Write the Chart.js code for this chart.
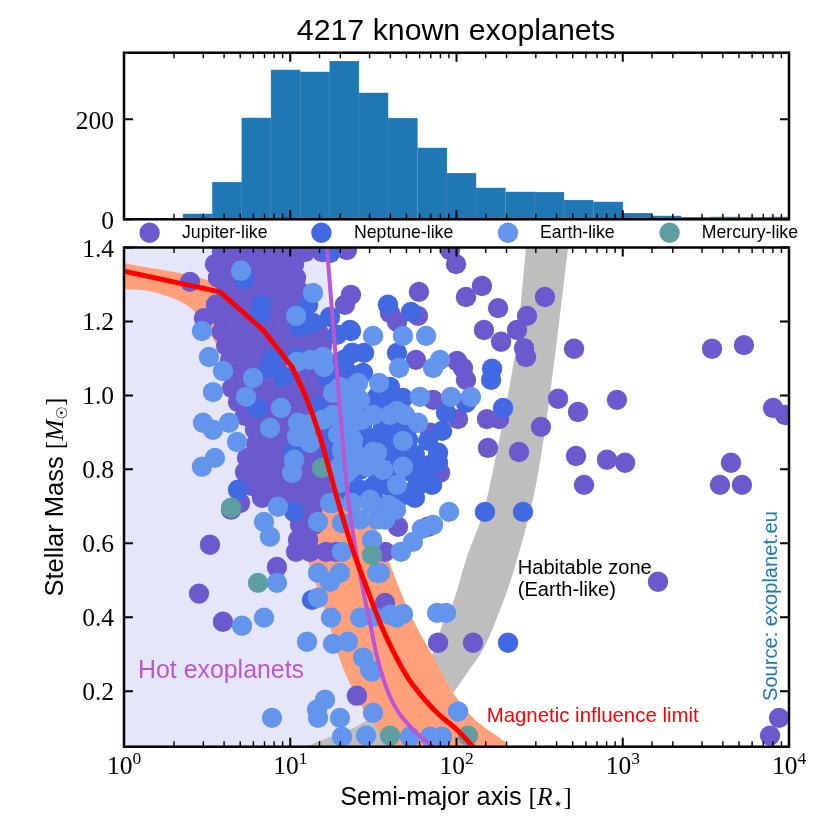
<!DOCTYPE html>
<html lang="en">
<head>
<meta charset="UTF-8">
<title>4217 known exoplanets</title>
<script src="https://cdn.jsdelivr.net/npm/chart.js"></script>
<style>
  html, body { margin: 0; padding: 0; background: #fff; }
  canvas { position: absolute; left: 0; top: 0; }
</style>
</head>
<body>
<canvas id="mainChart" width="830" height="830"></canvas>
<canvas id="histChart" width="830" height="245"></canvas>
<script>
// all semi-major axis values are log10(a / R_star)
const histLogA = [0.443,0.620,0.796,0.972,1.149,1.325,1.501,1.677,1.854,2.030,2.206,2.383,2.559,2.735,2.912,3.088,3.264,3.441,3.617,3.793,3.969];
const histCounts = [11,74,203,299,295,316,253,202,143,92,63,55,54,38,35,12,7,4,5,4,5];

const jupiterLogA = [
  .589,.674,.758,.842,.926,1.011,1.089,1.191,
  .547,.638,.734,.830,.926,1.023,
  .565,.662,.758,.854,.950,1.035,
  .614,.710,.806,.902,.998,1.059,
  .553,.626,.722,.818,.914,1.011,1.083,
  .481,.589,.686,.782,.878,.974,1.059,
  .589,.686,.782,.878,.974,1.071,1.167,
  .614,.710,.806,.902,.998,1.095,1.191,
  .638,.734,.830,.926,1.119,1.323,
  .650,.746,.842,.938,1.035,1.131,1.227,1.323,
  .650,.746,.842,.938,1.035,1.131,1.227,
  .686,.782,.878,.974,1.071,1.167,1.263,
  .728,.818,.914,1.011,1.107,1.203,1.299,
  .788,.878,.974,1.071,1.167,1.263,1.359,
  .794,.890,.986,1.083,1.179,1.275,
  .740,.830,.926,1.023,1.119,1.215,1.311,
  .728,.818,.914,1.011,1.107,1.203,1.299,
  .770,.866,.962,1.059,1.155,1.251,1.347,
  .830,.926,1.011,1.095,1.191,
  1.059,1.131,
  1.059,1.143,
  1.047,1.107,
  1.035,1.119,1.215,1.275,
  .397,.517,.920,.451,.595,1.401,.698,.644,1.341,1.365,
  1.329,1.600,1.642,1.768,1.774,1.961,1.997,2.153,2.057,2.250,
  2.165,2.268,2.364,2.424,2.532,2.406,2.418,2.707,1.756,2.003,
  2.039,2.057,1.859,2.611,2.731,2.965,2.183,2.256,2.009,2.508,
  2.189,2.376,2.719,2.767,2.905,3.014,3.537,3.729,3.585,3.651,
  3.717,3.904,3.976,3.212,1.889,2.099,3.940,3.886,1.660,1.570,
  1.841,1.901,1.570,1.648,1.829,1.570,1.377
];
const jupiterMass = [
  1.388,1.388,1.388,1.388,1.388,1.388,1.388,1.388,
  1.355,1.355,1.355,1.355,1.355,1.355,
  1.318,1.318,1.318,1.318,1.318,1.318,
  1.280,1.280,1.280,1.280,1.280,1.280,
  1.245,1.245,1.245,1.245,1.245,1.245,1.245,
  1.209,1.209,1.209,1.209,1.209,1.209,1.209,
  1.172,1.172,1.172,1.172,1.172,1.172,1.172,
  1.134,1.134,1.134,1.134,1.134,1.134,1.134,
  1.096,1.096,1.096,1.096,1.096,1.096,
  1.058,1.058,1.058,1.058,1.058,1.058,1.058,1.058,
  1.020,1.020,1.020,1.020,1.020,1.020,1.020,
  .982,.982,.982,.982,.982,.982,.982,
  .945,.945,.945,.945,.945,.945,.945,
  .907,.907,.907,.907,.907,.907,.907,
  .869,.869,.869,.869,.869,.869,
  .831,.831,.831,.831,.831,.831,.831,
  .793,.793,.793,.793,.793,.793,.793,
  .755,.755,.755,.755,.755,.755,.755,
  .723,.723,.723,.723,.723,
  .691,.691,
  .650,.650,
  .609,.609,
  .577,.577,.577,.577,
  1.307,.596,.536,.464,.388,.188,.709,.691,1.393,1.272,
  1.245,1.223,1.199,1.215,1.280,1.393,1.355,1.296,1.266,1.236,
  1.177,1.145,1.177,1.215,1.266,1.128,1.104,1.126,1.096,1.093,
  1.074,1.042,.988,.991,.955,.988,.936,.936,.936,.915,
  .858,.847,.836,.758,.826,.818,1.126,1.136,.758,.818,
  .758,.966,.947,.496,.331,.331,.128,.080,.901,.934,
  .899,.791,.577,.645,.645,.439,1.115
];

const neptuneLogA = [
  .722,.824,.818,1.107,1.239,1.239,1.059,1.137,1.359,1.281,
  .890,.878,.956,1.041,1.299,1.221,.800,1.167,1.257,1.017,
  .686,1.221,1.588,1.726,1.365,1.444,1.642,1.438,2.214,2.208,
  2.280,2.057,1.937,1.913,1.829,1.889,1.889,1.799,1.678,1.630,
  1.600,1.522,1.522,1.558,1.660,1.738,1.498,1.642,1.762,1.420,
  2.171,2.400,2.310,1.023,1.131,1.570,1.750,1.841,1.612,1.690,
  1.540,1.738,
  1.371,1.468,1.564,1.660,1.432,1.630,1.720,1.432,1.612,1.708,
  1.420,1.492,1.660,1.420,1.510,1.630,1.811,1.359,1.570,1.853,
  1.323,1.498,1.630,1.750,1.371,1.329,1.371
];
const neptuneMass = [
  1.315,1.245,1.218,1.245,1.212,1.385,1.185,1.196,1.177,1.164,
  1.096,1.074,1.050,1.104,1.091,1.050,.966,.969,.899,.845,
  .745,.845,1.245,1.226,1.174,1.115,1.115,1.061,1.072,1.042,
  .966,.980,.953,.904,.877,.845,.818,.780,.993,.996,
  1.023,.996,.888,.915,.826,.791,.753,.753,.753,.745,
  .685,.685,.331,.685,.447,.847,.839,.812,.784,.731,
  .704,.739,
  .961,.961,.961,.961,.920,.920,.920,.880,.880,.880,
  .839,.839,.839,.799,.799,.799,.799,.758,.758,.758,
  .723,.723,.723,.723,1.115,1.096,1.055
];

const earthLogA = [
  .704,1.137,1.035,.469,.511,.595,.776,.734,.535,.475,
  .535,.632,.680,.547,.469,.944,.878,1.047,1.041,1.119,
  1.197,1.257,1.359,1.299,1.377,1.041,1.119,1.197,1.203,1.023,
  1.011,1.317,1.377,1.341,1.299,1.377,1.420,1.341,1.359,1.498,
  1.678,1.817,1.654,1.901,1.859,1.534,1.408,1.401,1.780,1.967,
  2.087,1.498,1.600,1.690,1.768,1.432,1.678,1.377,1.498,1.462,
  1.558,1.678,1.642,1.480,
  .926,.842,.878,1.167,1.257,1.371,1.480,1.311,1.522,1.311,
  1.492,1.167,1.239,1.299,.920,1.167,1.245,.842,.710,1.420,
  1.522,1.504,1.101,1.257,1.347,1.438,1.492,1.209,1.161,1.167,
  1.299,.890,1.311,1.456,1.498,1.955,1.859,1.792,1.738,1.666,
  1.540,1.883,1.937,1.678,1.642,1.600,2.009,1.841,1.913,1.720,
  1.480,1.588,1.570,1.636,1.420,
  1.377,1.642,1.311,1.432,1.522,1.257,1.299,1.239,1.612,1.119,1.287
];
const earthMass = [
  1.337,1.277,1.215,1.174,1.104,1.066,1.047,.996,1.009,.926,
  .907,.926,.874,.831,.807,.966,.912,.926,.888,.872,
  .934,.947,.953,1.023,1.023,1.091,1.096,1.104,1.077,.826,
  .791,.845,.880,.791,.807,.807,.988,.988,.915,1.161,
  1.161,1.161,1.074,1.096,1.074,1.034,1.034,.996,.996,.996,
  .996,.947,.947,.947,.926,.934,.877,.853,.847,.807,
  .799,.807,.758,.718,
  .699,.658,.618,.658,.709,.709,.709,.655,.664,.577,
  .609,.520,.496,.520,.493,.453,.399,.399,.377,.399,
  .520,.401,.334,.328,.334,.291,.253,.177,.150,.128,
  .128,.128,.077,.080,.142,.685,.650,.639,.604,.577,
  .520,.412,.412,.409,.399,.407,.145,.077,.077,.077,
  .258,.704,.664,.691,.664,
  .926,.958,.853,.831,.845,1.007,.763,.709,.696,.922,.895
];

const mercuryLogA = [.644,.806,1.492,1.191,1.600,2.069];
const mercuryMass = [.696,.493,.569,.804,.080,.080];

// magnetic limit: straight pieces near the top, a smooth curve below
const magneticTopLogA = [0,.577,.836,1.011];
const magneticTopMass = [1.336,1.280,1.177,1.077];
const magneticLogA = [1.011,1.101,1.179,1.227,1.281,1.329,1.377,1.426,1.480,1.558,1.642,1.708,1.780,1.889,2.003,2.099];
const magneticMass = [1.077,.988,.888,.812,.723,.650,.582,.520,.455,.366,.288,.236,.193,.139,.096,.05];

const bandLogA = [0,.577,.938,1.179,1.329,1.468,1.582,1.660,1.738,1.859,1.979,2.111,2.304,1.660,1.480,1.377,1.299,1.221,1.119,.998,.818,.638,.415,.174,0];
const bandMass = [1.358,1.299,1.164,1.015,.866,.691,.564,.474,.393,.293,.196,.123,.05,.05,.124,.204,.285,.401,.536,.691,.907,1.069,1.231,1.280,1.288];

const hotLogA = [1.221,1.281,1.347,1.438,1.480,1.522,1.600,1.738,1.859];
const hotMass = [1.4,1.061,.726,.474,.385,.293,.185,.096,.05];

const habitableLogA = [2.418,2.364,2.304,2.208,2.153,2.063,1.979,1.919,1.859,1.690,1.420,1.119,1.630,1.811,1.979,2.069,2.159,2.262,2.340,2.430,2.484,2.544,2.604,2.671];
const habitableMass = [1.4,1.150,.988,.772,.672,.564,.439,.385,.304,.204,.110,.05,.05,.110,.196,.253,.312,.420,.520,.664,.772,.942,1.150,1.4];

const massTicks = [0.2,0.4,0.6,0.8,1.0,1.2,1.4];
const countTicks = [0,200];
const legendLabels = ['Jupiter-like','Neptune-like','Earth-like','Mercury-like'];
const legendColors = ['#6a5acd','#4169e1','#6495ed','#5f9ea0'];

const SANS = '"Liberation Sans", Arial, sans-serif';
const SERIF = '"Liberation Serif", "Times New Roman", serif';

const toPoints = (logA, vals) => logA.map((l, i) => ({x: Math.pow(10, l), y: vals[i]}));

// draw a row of differently styled text pieces, rotated if asked
function drawRuns(ctx, x, y, runs, angle) {
  ctx.save();
  ctx.translate(x, y);
  if (angle) ctx.rotate(angle);
  ctx.textAlign = 'left';
  ctx.textBaseline = 'alphabetic';
  let pos = 0;
  runs.forEach(r => {
    ctx.font = r.font;
    ctx.fillStyle = r.color || '#000';
    ctx.fillText(r.t, pos, r.dy || 0);
    pos += ctx.measureText(r.t).width;
  });
  ctx.restore();
}

function runsWidth(ctx, runs) {
  let w = 0;
  runs.forEach(r => { ctx.font = r.font; w += ctx.measureText(r.t).width; });
  return w;
}

function drawTicks(chart) {
  const {ctx, chartArea: a, scales: {x, y}} = chart;
  ctx.save();
  ctx.strokeStyle = '#000';
  x.ticks.forEach(t => {
    const px = x.getPixelForValue(t.value);
    const len = t.major ? 9 : 5.5;
    ctx.lineWidth = t.major ? 2 : 1.4;
    ctx.beginPath();
    ctx.moveTo(px, a.bottom); ctx.lineTo(px, a.bottom - len);
    ctx.moveTo(px, a.top); ctx.lineTo(px, a.top + len);
    ctx.stroke();
  });
  y.ticks.forEach(t => {
    const py = y.getPixelForValue(t.value);
    ctx.lineWidth = 2;
    ctx.beginPath();
    ctx.moveTo(a.left, py); ctx.lineTo(a.left + 9, py);
    ctx.moveTo(a.right, py); ctx.lineTo(a.right - 9, py);
    ctx.stroke();
  });
  ctx.lineWidth = 2.5;
  ctx.strokeRect(a.left, a.top, a.right - a.left, a.bottom - a.top);
  ctx.restore();
}

const yTickFont = '25.5px ' + SERIF;

const histDecor = {
  id: 'histDecor',
  afterDraw(chart) {
    const {ctx, scales: {y}} = chart;
    drawTicks(chart);
    ctx.save();
    ctx.font = yTickFont;
    ctx.textAlign = 'right';
    ctx.fillStyle = '#000';
    countTicks.forEach(v => ctx.fillText(String(v), 114, y.getPixelForValue(v) + 9.5));
    ctx.font = '30.3px ' + SANS;
    ctx.textAlign = 'center';
    ctx.fillText('4217 known exoplanets', 456, 40);
    ctx.restore();
  }
};

const mainDecor = {
  id: 'mainDecor',
  afterDraw(chart) {
    const {ctx, scales: {x, y}} = chart;
    drawTicks(chart);

    ctx.save();
    ctx.fillStyle = '#000';
    ctx.font = yTickFont;
    ctx.textAlign = 'right';
    massTicks.forEach(v => ctx.fillText(v.toFixed(1), 114, y.getPixelForValue(v) + 9));
    ctx.restore();

    // decade labels, 10 with the exponent raised
    x.ticks.filter(t => t.major).forEach(t => {
      const runs = [
        {t: '10', font: '25.5px ' + SERIF},
        {t: String(Math.round(Math.log10(t.value))), font: '17.5px ' + SERIF, dy: -10}
      ];
      drawRuns(ctx, x.getPixelForValue(t.value) - runsWidth(ctx, runs) / 2, 774, runs);
    });

    // legend row between the two panels
    legendLabels.forEach((label, i) => {
      const cx = [149.6, 321.4, 508, 669.6][i];
      const tx = [182, 354, 540, 701.7][i];
      ctx.beginPath();
      ctx.arc(cx, 232.7, 10.2, 0, Math.PI * 2);
      ctx.fillStyle = legendColors[i];
      ctx.fill();
      drawRuns(ctx, tx, 238, [{t: label, font: '17.7px ' + SANS}]);
    });

    // axis titles
    const xRuns = [
      {t: 'Semi-major axis ', font: '25.3px ' + SANS},
      {t: '[', font: '25.5px ' + SERIF},
      {t: 'R', font: 'italic 25.5px ' + SERIF},
      {t: '\u22C6', font: '17px "DejaVu Sans"', dy: 4},
      {t: ']', font: '25.5px ' + SERIF}
    ];
    drawRuns(ctx, 456 - runsWidth(ctx, xRuns) / 2, 805, xRuns);
    const yRuns = [
      {t: 'Stellar Mass ', font: '25.5px ' + SANS},
      {t: '[', font: '25.5px ' + SERIF},
      {t: 'M', font: 'italic 25.5px ' + SERIF},
      {t: '\u2609', font: '15px "DejaVu Sans"', dy: 4},
      {t: ']', font: '25.5px ' + SERIF}
    ];
    drawRuns(ctx, 63, 497 + runsWidth(ctx, yRuns) / 2, yRuns, -Math.PI / 2);

    // annotations
    drawRuns(ctx, 138, 678, [{t: 'Hot exoplanets', font: '24.9px ' + SANS, color: '#ba55d3'}]);
    drawRuns(ctx, 486.7, 722, [{t: 'Magnetic influence limit', font: '20.4px ' + SANS, color: '#ff0000'}]);
    drawRuns(ctx, 517.7, 574, [{t: 'Habitable zone', font: '20.1px ' + SANS}]);
    drawRuns(ctx, 517.7, 595.5, [{t: '(Earth-like)', font: '20.1px ' + SANS}]);
    drawRuns(ctx, 777, 701, [{t: 'Source: exoplanet.eu', font: '20.1px ' + SANS, color: '#1f77b4'}], -Math.PI / 2);
  }
};

function hiddenAxis(extra) {
  return Object.assign({
    display: true,
    grid: {display: false, drawTicks: false},
    border: {display: false},
    ticks: {display: false, autoSkip: false}
  }, extra);
}

const logAxis = () => hiddenAxis({type: 'logarithmic', min: 1, max: 10000, offset: false});

function planets(logA, mass, color, order) {
  return {
    type: 'scatter', data: toPoints(logA, mass), order: order, showLine: false,
    pointRadius: 10.2, pointBorderWidth: 0, pointBackgroundColor: color
  };
}

function region(logA, mass, color, order, tension) {
  return {
    type: 'scatter', data: toPoints(logA, mass), order: order, showLine: true, fill: 'shape',
    backgroundColor: color, borderWidth: 0, pointRadius: 0, tension: tension
  };
}

function curve(logA, mass, color, width, order, mode) {
  return {
    type: 'scatter', data: toPoints(logA, mass), order: order, showLine: true, fill: false,
    borderColor: color, borderWidth: width, pointRadius: 0, cubicInterpolationMode: mode,
    borderJoinStyle: 'round', borderCapStyle: 'round'
  };
}

new Chart(document.getElementById('histChart'), {
  type: 'bar',
  data: {
    datasets: [{
      data: toPoints(histLogA, histCounts),
      backgroundColor: '#1f77b4',
      borderColor: '#4b90c3',
      borderWidth: {top: 0.5, left: 0.5, right: 0.5, bottom: 0},
      barThickness: 29.3,
      grouped: false
    }]
  },
  options: {
    responsive: false,
    animation: false,
    events: [],
    layout: {padding: {left: 124, right: 41, top: 52.7, bottom: 25.7}},
    plugins: {legend: {display: false}, tooltip: {enabled: false}, title: {display: false}},
    scales: {
      x: logAxis(),
      y: hiddenAxis({
        min: 0, max: 333,
        afterBuildTicks: axis => { axis.ticks = countTicks.map(v => ({value: v})); }
      })
    }
  },
  plugins: [histDecor]
});

new Chart(document.getElementById('mainChart'), {
  type: 'scatter',
  data: {
    datasets: [
      region([0].concat(hotLogA, [0]), [1.4].concat(hotMass, [0.05]), '#e6e6fa', 9, 0),
      region(habitableLogA, habitableMass, '#bebebe', 8, 0.3),
      region(bandLogA, bandMass, '#ffa07a', 7, 0.3),
      planets(jupiterLogA, jupiterMass, legendColors[0], 6),
      planets(neptuneLogA, neptuneMass, legendColors[1], 5),
      planets(earthLogA, earthMass, legendColors[2], 4),
      planets(mercuryLogA, mercuryMass, legendColors[3], 3),
      curve(hotLogA, hotMass, '#ba55d3', 4, 2, 'monotone'),
      curve(magneticTopLogA, magneticTopMass, '#ff0000', 5, 1, 'default'),
      curve(magneticLogA, magneticMass, '#ff0000', 5, 1, 'monotone')
    ]
  },
  options: {
    responsive: false,
    animation: false,
    events: [],
    layout: {padding: {left: 124, right: 41, top: 247.5, bottom: 83.3}},
    plugins: {legend: {display: false}, tooltip: {enabled: false}, title: {display: false}},
    scales: {
      x: logAxis(),
      y: hiddenAxis({
        min: 0.05, max: 1.4,
        afterBuildTicks: axis => { axis.ticks = massTicks.map(v => ({value: v})); }
      })
    }
  },
  plugins: [mainDecor]
});
</script>
</body>
</html>
